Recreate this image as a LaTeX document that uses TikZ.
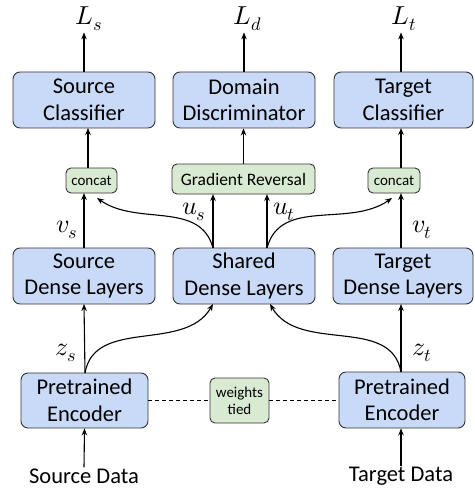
\documentclass[tikz,border=0pt]{standalone}
\usepackage{fontspec}
\usepackage{unicode-math}
\setmainfont{Carlito}
\setmathfont{Latin Modern Math}
\usetikzlibrary{arrows.meta}
\definecolor{boxblue}{HTML}{C9DAF8}
\definecolor{boxgreen}{HTML}{D9EAD3}
\definecolor{edge}{HTML}{333333}
\begin{document}
\begin{tikzpicture}[x=1pt,y=-1pt,
  bigbox/.style={draw=edge,line width=0.9pt,fill=boxblue,rounded corners=7pt,
    minimum height=56pt,inner sep=1pt,align=center,
    font=\fontsize{22.5}{26.5}\selectfont},
  greenbox/.style={draw=edge,line width=0.9pt,fill=boxgreen,rounded corners=5pt,
    inner sep=1pt,align=center},
  lbl/.style={inner sep=1pt,font=\fontsize{22.5}{26.5}\selectfont},
  mlbl/.style={inner sep=1pt,font=\fontsize{26}{30}\selectfont},
  arr/.style={line width=1.1pt,-{Stealth[length=7pt,width=5.5pt]}},
  tie/.style={line width=1pt,dash pattern=on 4pt off 3pt}]
\useasboundingbox (0,0) rectangle (474,489);
% top row
\node[bigbox,minimum width=142pt] (sc) at (84,100) {Source\\Classifier};
\node[bigbox,minimum width=142pt] (dd) at (244,100) {Domain\\Discriminator};
\node[bigbox,minimum width=139pt] (tc) at (403.5,100) {Target\\Classifier};
\node[mlbl] (Ls) at (89,19) {$L_s$};
\node[mlbl] (Ld) at (248,19) {$L_d$};
\node[mlbl] (Lt) at (404,19) {$L_t$};
% middle small boxes
\node[greenbox,minimum width=51pt,minimum height=25pt,font=\fontsize{15}{17}\selectfont] (cl) at (91.5,180.5) {concat};
\node[greenbox,minimum width=143pt,minimum height=30pt,font=\fontsize{17.5}{20}\selectfont] (gr) at (243.5,179) {Gradient Reversal};
\node[greenbox,minimum width=52pt,minimum height=25pt,font=\fontsize{15}{17}\selectfont] (cr) at (394,180.5) {concat};
% dense row
\node[bigbox,minimum width=142pt] (sdl) at (84,276) {Source\\Dense Layers};
\node[bigbox,minimum width=142pt] (shd) at (244,276) {Shared\\Dense Layers};
\node[bigbox,minimum width=140pt] (tdl) at (403,276) {Target\\Dense Layers};
% encoders
\node[bigbox,minimum width=127pt,minimum height=55pt] (el) at (84.5,400.5) {Pretrained\\Encoder};
\node[bigbox,minimum width=126pt,minimum height=56pt] (er) at (402,400) {Pretrained\\Encoder};
\node[greenbox,minimum width=59pt,minimum height=45pt,font=\fontsize{15}{17}\selectfont] (wt) at (239.5,400.5) {weights\\tied};
% data
\node[lbl] (sd) at (84,476) {Source Data};
\node[lbl] (td) at (401,476) {Target Data};
% coordinates
\coordinate (scb) at (88,128);
\coordinate (clt) at (88,168);
\coordinate (clb) at (84,193);
\coordinate (clc) at (97,198);
\coordinate (sdt) at (84,248);
\coordinate (crb) at (401,193);
\coordinate (crc) at (392,198);
\coordinate (tdt) at (401,248);
\coordinate (tct) at (401,128);
\coordinate (crt) at (401,168);
\coordinate (shl) at (213,248);
\coordinate (shr) at (267,248);
\coordinate (grl) at (213,194);
\coordinate (grr) at (267,194);
\coordinate (shbl) at (213,304);
\coordinate (shbr) at (270,304);
\coordinate (elt) at (85,373);
\coordinate (ert) at (401,372);
\coordinate (sdlb) at (84,304);
\coordinate (tdlb) at (401,304);
% arrows top
\draw[arr] (sc.north) -- (Ls.south -| sc.north);
\draw[arr] (dd.north) -- (Ld.south -| dd.north);
\draw[arr] (tc.north -| tct) -- (Lt.south -| tct);
\draw[arr] (clt) -- (scb);
\draw[arr] (gr.north) -- (gr.north |- dd.south);
\draw[arr] (crt) -- (tct);
% dense to concat
\draw[arr] (sdt) -- (clb);
\draw[arr] (tdt) -- (crb);
\draw[arr] (shl) -- (grl);
\draw[arr] (shr) -- (grr);
\draw[arr] (shl) to[out=105,in=-35] (clc);
\draw[arr] (shr) to[out=75,in=-145] (crc);
% encoders to dense
\draw[arr] (elt) -- (sdlb);
\draw[arr] (ert) -- (tdlb);
\draw[arr] (elt) to[out=80,in=-120] (shbl);
\draw[arr] (ert) to[out=100,in=-60] (shbr);
% data
\draw[arr] (sd.north) -- (el.south);
\draw[arr] (td.north) -- (td.north |- er.south);
% tie
\draw[tie] (el.east) -- (wt.west);
\draw[tie] (wt.east) -- (er.west |- wt.east);
% labels
\node[mlbl] (vs) at (67,230) {$v_s$};
\node[mlbl] (us) at (194,212) {$u_s$};
\node[mlbl] (ut) at (284,212) {$u_t$};
\node[mlbl] (vt) at (422,230) {$v_t$};
\node[mlbl] (zs) at (66,353) {$z_s$};
\node[mlbl] (zt) at (422,353) {$z_t$};
\end{tikzpicture}
\end{document}
